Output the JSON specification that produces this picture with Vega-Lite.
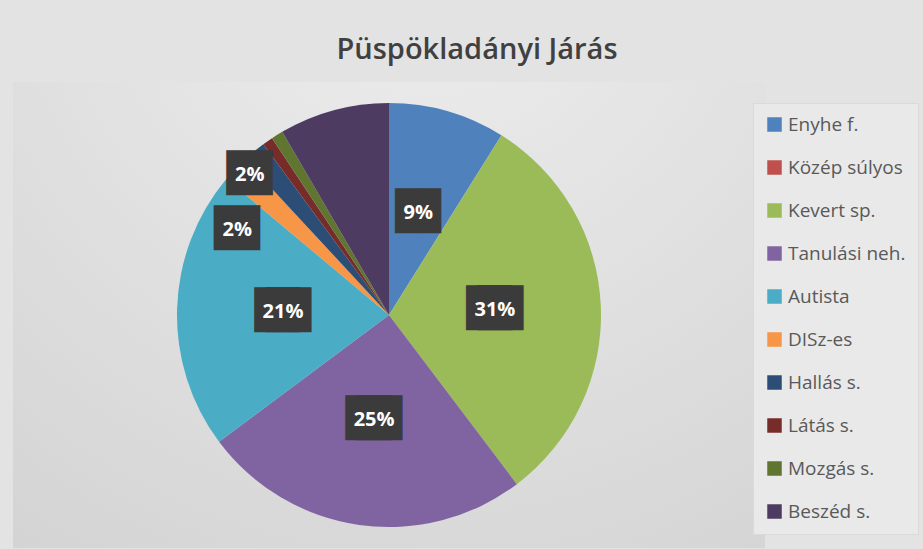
{
  "$schema": "https://vega.github.io/schema/vega-lite/v6.json",
  "width": 752,
  "height": 466,
  "autosize": {"type": "none"},
  "padding": {"left": 13, "top": 82, "right": 158, "bottom": 1},
  "background": "#e3e3e3",
  "config": {"view": {"stroke": null}, "font": "Open Sans"},
  "title": {
    "text": "Püspökladányi Járás",
    "font": "Open Sans",
    "fontSize": 29,
    "fontWeight": 600,
    "color": "#404040",
    "anchor": "middle",
    "dx": 88,
    "baseline": "alphabetic",
    "offset": -6
  },
  "data": {
    "values": [
      {"kategoria": "Enyhe f.", "arany": 0.089, "sorrend": 1},
      {"kategoria": "Közép súlyos", "arany": 0.0, "sorrend": 2},
      {"kategoria": "Kevert sp.", "arany": 0.308, "sorrend": 3},
      {"kategoria": "Tanulási neh.", "arany": 0.251, "sorrend": 4},
      {"kategoria": "Autista", "arany": 0.213, "sorrend": 5},
      {"kategoria": "DISz-es", "arany": 0.020, "sorrend": 6},
      {"kategoria": "Hallás s.", "arany": 0.018, "sorrend": 7},
      {"kategoria": "Látás s.", "arany": 0.008, "sorrend": 8},
      {"kategoria": "Mozgás s.", "arany": 0.009, "sorrend": 9},
      {"kategoria": "Beszéd s.", "arany": 0.084, "sorrend": 10}
    ]
  },
  "layer": [
    {
      "data": {"values": [{}]},
      "mark": {
        "type": "rect",
        "color": {
          "gradient": "radial",
          "x1": 0.55, "y1": 0.0, "r1": 0,
          "x2": 0.55, "y2": 0.0, "r2": 1.0,
          "stops": [
            {"offset": 0, "color": "#eeeeee"},
            {"offset": 0.5, "color": "#e1e1e1"},
            {"offset": 1, "color": "#d3d3d3"}
          ]
        }
      }
    },
    {
      "mark": {"type": "arc", "outerRadius": 212},
      "encoding": {
        "theta": {"field": "arany", "type": "quantitative", "stack": true},
        "order": {"field": "sorrend", "type": "quantitative"},
        "color": {
          "field": "kategoria",
          "type": "nominal",
          "scale": {
            "domain": ["Enyhe f.", "Közép súlyos", "Kevert sp.", "Tanulási neh.", "Autista", "DISz-es", "Hallás s.", "Látás s.", "Mozgás s.", "Beszéd s."],
            "range": ["#4F81BD", "#C0504D", "#9BBB59", "#8064A2", "#4BACC6", "#F79646", "#2C4D75", "#772C2A", "#5F7530", "#4D3B62"]
          },
          "legend": {
            "orient": "none",
            "legendX": 740,
            "legendY": 21,
            "title": null,
            "symbolType": "square",
            "symbolSize": 210,
            "symbolStrokeWidth": 0,
            "labelFont": "Open Sans",
            "labelFontSize": 19,
            "labelColor": "#595959",
            "labelOffset": 4,
            "rowPadding": 23,
            "padding": 12,
            "fillColor": "#e9e9e9",
            "strokeColor": "#dadada"
          }
        }
      }
    },
    {
      "mark": {"type": "text", "radius": 106, "text": "██", "font": "DejaVu Sans Mono", "fontSize": 38, "color": "#3b3b3b", "align": "center", "baseline": "middle"},
      "encoding": {
        "theta": {"field": "arany", "type": "quantitative", "stack": true},
        "order": {"field": "sorrend", "type": "quantitative"},
        "detail": {"field": "kategoria"},
        "opacity": {"condition": {"test": "datum.kategoria === 'Enyhe f.'", "value": 1}, "value": 0}
      }
    },
    {
      "mark": {"type": "text", "radius": 106, "text": "██", "font": "DejaVu Sans Mono", "fontSize": 38, "color": "#3b3b3b", "align": "center", "baseline": "middle", "dx": -5.5},
      "encoding": {
        "theta": {"field": "arany", "type": "quantitative", "stack": true},
        "order": {"field": "sorrend", "type": "quantitative"},
        "detail": {"field": "kategoria"},
        "opacity": {"condition": {"test": "indexof(['Kevert sp.', 'Tanulási neh.', 'Autista'], datum.kategoria) >= 0", "value": 1}, "value": 0}
      }
    },
    {
      "mark": {"type": "text", "radius": 106, "text": "██", "font": "DejaVu Sans Mono", "fontSize": 38, "color": "#3b3b3b", "align": "center", "baseline": "middle", "dx": 5.5},
      "encoding": {
        "theta": {"field": "arany", "type": "quantitative", "stack": true},
        "order": {"field": "sorrend", "type": "quantitative"},
        "detail": {"field": "kategoria"},
        "opacity": {"condition": {"test": "indexof(['Kevert sp.', 'Tanulási neh.', 'Autista'], datum.kategoria) >= 0", "value": 1}, "value": 0}
      }
    },
    {
      "mark": {"type": "text", "radius": 175, "text": "██", "font": "DejaVu Sans Mono", "fontSize": 38, "color": "#3b3b3b", "align": "center", "baseline": "middle", "dx": -25, "dy": 36},
      "encoding": {
        "theta": {"field": "arany", "type": "quantitative", "stack": true},
        "order": {"field": "sorrend", "type": "quantitative"},
        "detail": {"field": "kategoria"},
        "opacity": {"condition": {"test": "datum.kategoria === 'DISz-es'", "value": 1}, "value": 0}
      }
    },
    {
      "mark": {"type": "text", "radius": 195, "text": "██", "font": "DejaVu Sans Mono", "fontSize": 38, "color": "#3b3b3b", "align": "center", "baseline": "middle", "dx": -15, "dy": 10},
      "encoding": {
        "theta": {"field": "arany", "type": "quantitative", "stack": true},
        "order": {"field": "sorrend", "type": "quantitative"},
        "detail": {"field": "kategoria"},
        "opacity": {"condition": {"test": "datum.kategoria === 'Hallás s.'", "value": 1}, "value": 0}
      }
    },
    {
      "mark": {"type": "text", "radius": 106, "font": "Open Sans", "fontSize": 20, "fontWeight": "bold", "color": "white", "align": "center", "baseline": "middle"},
      "encoding": {
        "theta": {"field": "arany", "type": "quantitative", "stack": true},
        "order": {"field": "sorrend", "type": "quantitative"},
        "detail": {"field": "kategoria"},
        "text": {"field": "arany", "type": "quantitative", "format": ".0%"},
        "opacity": {"condition": {"test": "indexof(['Enyhe f.', 'Kevert sp.', 'Tanulási neh.', 'Autista'], datum.kategoria) >= 0", "value": 1}, "value": 0}
      }
    },
    {
      "mark": {"type": "text", "radius": 175, "font": "Open Sans", "fontSize": 20, "fontWeight": "bold", "color": "white", "align": "center", "baseline": "middle", "dx": -25, "dy": 36},
      "encoding": {
        "theta": {"field": "arany", "type": "quantitative", "stack": true},
        "order": {"field": "sorrend", "type": "quantitative"},
        "detail": {"field": "kategoria"},
        "text": {"field": "arany", "type": "quantitative", "format": ".0%"},
        "opacity": {"condition": {"test": "datum.kategoria === 'DISz-es'", "value": 1}, "value": 0}
      }
    },
    {
      "mark": {"type": "text", "radius": 195, "font": "Open Sans", "fontSize": 20, "fontWeight": "bold", "color": "white", "align": "center", "baseline": "middle", "dx": -15, "dy": 10},
      "encoding": {
        "theta": {"field": "arany", "type": "quantitative", "stack": true},
        "order": {"field": "sorrend", "type": "quantitative"},
        "detail": {"field": "kategoria"},
        "text": {"field": "arany", "type": "quantitative", "format": ".0%"},
        "opacity": {"condition": {"test": "datum.kategoria === 'Hallás s.'", "value": 1}, "value": 0}
      }
    }
  ]
}
